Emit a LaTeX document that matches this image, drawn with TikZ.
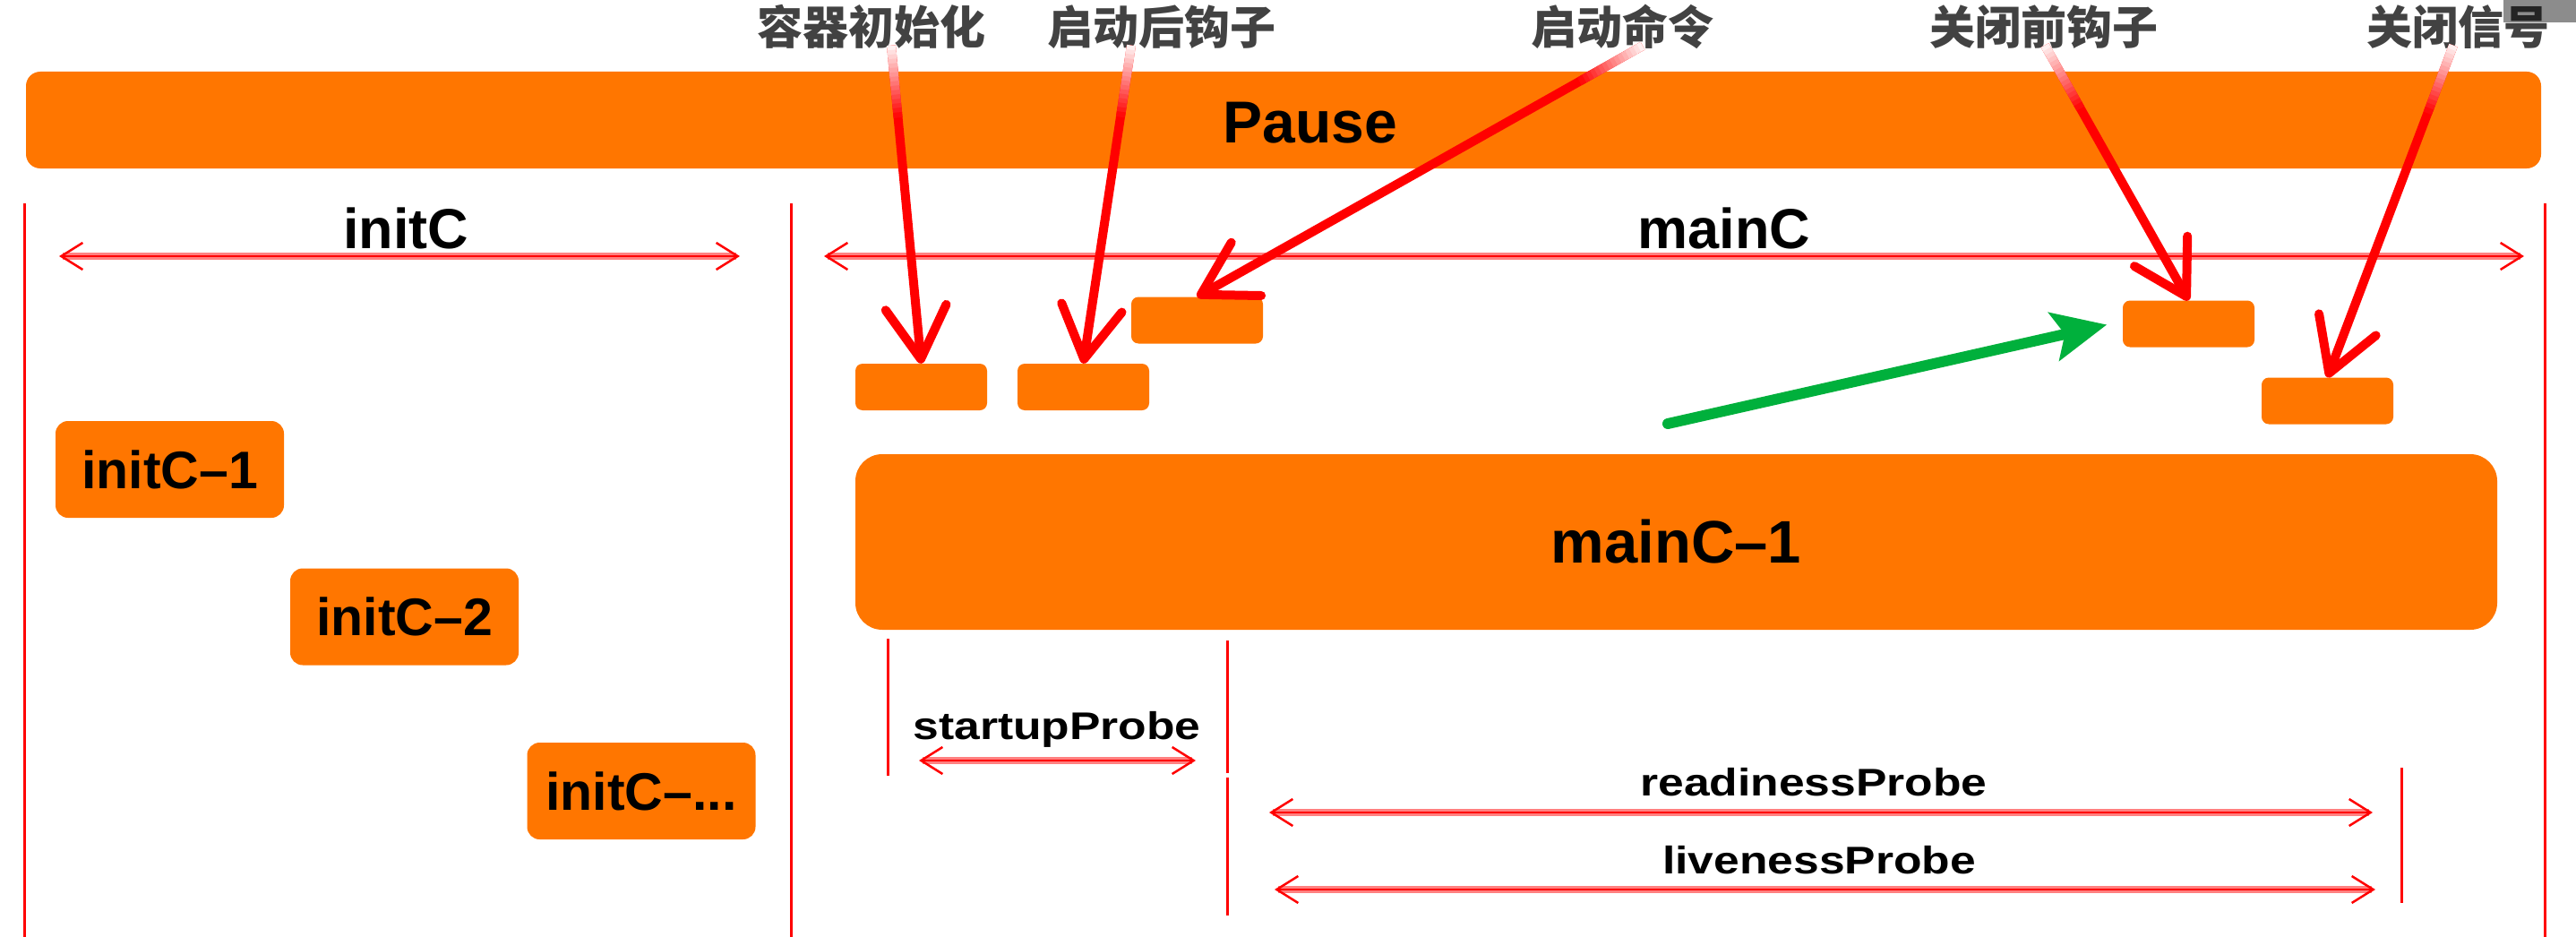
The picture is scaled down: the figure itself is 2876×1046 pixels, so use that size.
\documentclass[tikz,border=0pt]{standalone}
\usepackage{fontspec}
\setmainfont{Liberation Sans}
\newfontfamily\probefont{Liberation Sans}[FakeStretch=1.2]
\newfontfamily\cjk{Noto Sans CJK SC}
\usepackage{xcolor}
\usepackage{tikz}
\usetikzlibrary{arrows.meta}
\usetikzlibrary{calc}
\definecolor{podorange}{RGB}{255,118,0}
\definecolor{hookgray}{RGB}{66,66,66}
\definecolor{probegreen}{RGB}{0,176,60}
\tikzset{
    ctrbox/.style = {rectangle, fill=podorange, inner sep=0pt, rounded corners=14pt, font=\fontsize{59}{64}\selectfont\bfseries},
    pausebar/.style = {ctrbox, minimum width=2808pt, minimum height=108pt, rounded corners=16pt},
    initbox/.style = {ctrbox, minimum width=255pt, minimum height=108pt},
    mainbox/.style = {ctrbox, minimum width=1833pt, minimum height=196pt, rounded corners=30pt, font=\fontsize{67}{72}\selectfont\bfseries},
    hookbox/.style = {ctrbox, minimum width=147pt, minimum height=52pt, rounded corners=8pt},
    hooklabel/.style = {inner sep=0pt, text=hookgray, font=\cjk\fontsize{51}{56}\selectfont\bfseries},
    headtext/.style = {inner sep=0pt, anchor=base, font=\fontsize{63}{68}\selectfont\bfseries},
    probelabel/.style = {inner sep=0pt, anchor=base, font=\probefont\fontsize{43}{48}\selectfont\bfseries},
}

\begin{document}
\begin{tikzpicture}[
	x=1pt,
	y=-1pt
]
\tikzset{
    spanarrow/.style = {draw=red, line width=2.5pt, {Straight Barb[length=24pt,width=30pt]}-{Straight Barb[length=24pt,width=30pt]}, preaction={draw=red!50, line width=8pt, arrows=-, shorten <=4pt, shorten >=4pt}},
    edgev/.style = {draw=red, line width=3pt},
    hookarrow/.style = {draw=red, line width=10pt, -{Straight Barb[round,length=58pt,width=68pt]}},
    nextarrow/.style = {draw=probegreen, line width=12pt, line cap=round, -{Stealth[length=60pt,width=54pt,inset=12pt]}, shorten >=18pt}
}
\useasboundingbox (0,0) rectangle (2876,1046);
%
\node[pausebar] at (1433,134) (pause) {};
\node[headtext, font=\fontsize{66}{70}\selectfont\bfseries] at (1463,160) (pausetxt) {Pause};
%
\node[hooklabel] at (973,30) (l1) {容器初始化};
\node[hooklabel] at (1297,30) (l2) {启动后钩子};
\node[hooklabel] at (1811,30) (l3) {启动命令};
\node[hooklabel] at (2282,30) (l4) {关闭前钩子};
\node[hooklabel] at (2744,30) (l5) {关闭信号};
\fill[black, opacity=0.45] (2795,0) rectangle (2876,25);
%
\foreach \x in {27,883,2841}
    \draw[edgev] (\x,227) -- (\x,1046);
\draw[edgev] (991,713) -- (991,866);
\draw[edgev] (1370,715) -- (1370,863);
\draw[edgev] (1370,868) -- (1370,1022);
\draw[edgev] (2681,857) -- (2681,1008);
%
\node[headtext] at (453,277) (inittxt) {initC};
\node[headtext] at (1925,277) (maintxt) {mainC};
\coordinate (ia) at (66,286);
\coordinate (ib) at (826,286);
\coordinate (ma) at (920,286);
\coordinate (mb) at (2818,286);
\draw[spanarrow] (ia) -- (ib);
\draw[spanarrow] (ma) -- (mb);
%
\node[initbox] at (189.5,524) (ic1) {initC–1};
\node[initbox] at (451.5,688.5) (ic2) {initC–2};
\node[initbox] at (716,883) (ic3) {initC–...};
\node[mainbox] at (1871.5,605) (mc1) {mainC–1};
%
\node[hookbox] at (1028.5,432) (h1) {};
\node[hookbox] at (1209.5,432) (h2) {};
\node[hookbox] at (1336.5,357.5) (h3) {};
\node[hookbox] at (2443.5,361.5) (h4) {};
\node[hookbox] at (2598.5,447.5) (h5) {};
%
\node[probelabel] at (1180,825) (sp) {startupProbe};
\node[probelabel] at (2025,888) (rp) {readinessProbe};
\node[probelabel] at (2031,975) (lp) {livenessProbe};
\coordinate (sa) at (1026,849);
\coordinate (sb) at (1335,849);
\coordinate (ra) at (1417,907);
\coordinate (rb) at (2649,907);
\coordinate (la) at (1423,993);
\coordinate (lb) at (2652,993);
\draw[spanarrow] (sa) -- (sb);
\draw[spanarrow] (ra) -- (rb);
\draw[spanarrow] (la) -- (lb);
%
\coordinate (g0) at (1862,473);
\draw[nextarrow] (g0) -- ([yshift=3pt]h4.west);
%
\foreach \l/\dx/\b in {l1/22/h1, l2/-34/h2, l3/23/h3, l4/1/h4, l5/-5/h5}{
    \coordinate (s) at ([xshift=\dx pt,yshift=4pt]\l.south);
    \draw[hookarrow] (s) -- (\b.north);
    \foreach \i [evaluate=\i as \da using \i*5, evaluate=\i as \db using \i*5+6, evaluate=\i as \p using int(6+\i*6)] in {0,...,15}
        \draw[line width=10pt, red!\p] ($(s)!\da pt!(\b.north)$) -- ($(s)!\db pt!(\b.north)$);
}
\end{tikzpicture}
\end{document}
